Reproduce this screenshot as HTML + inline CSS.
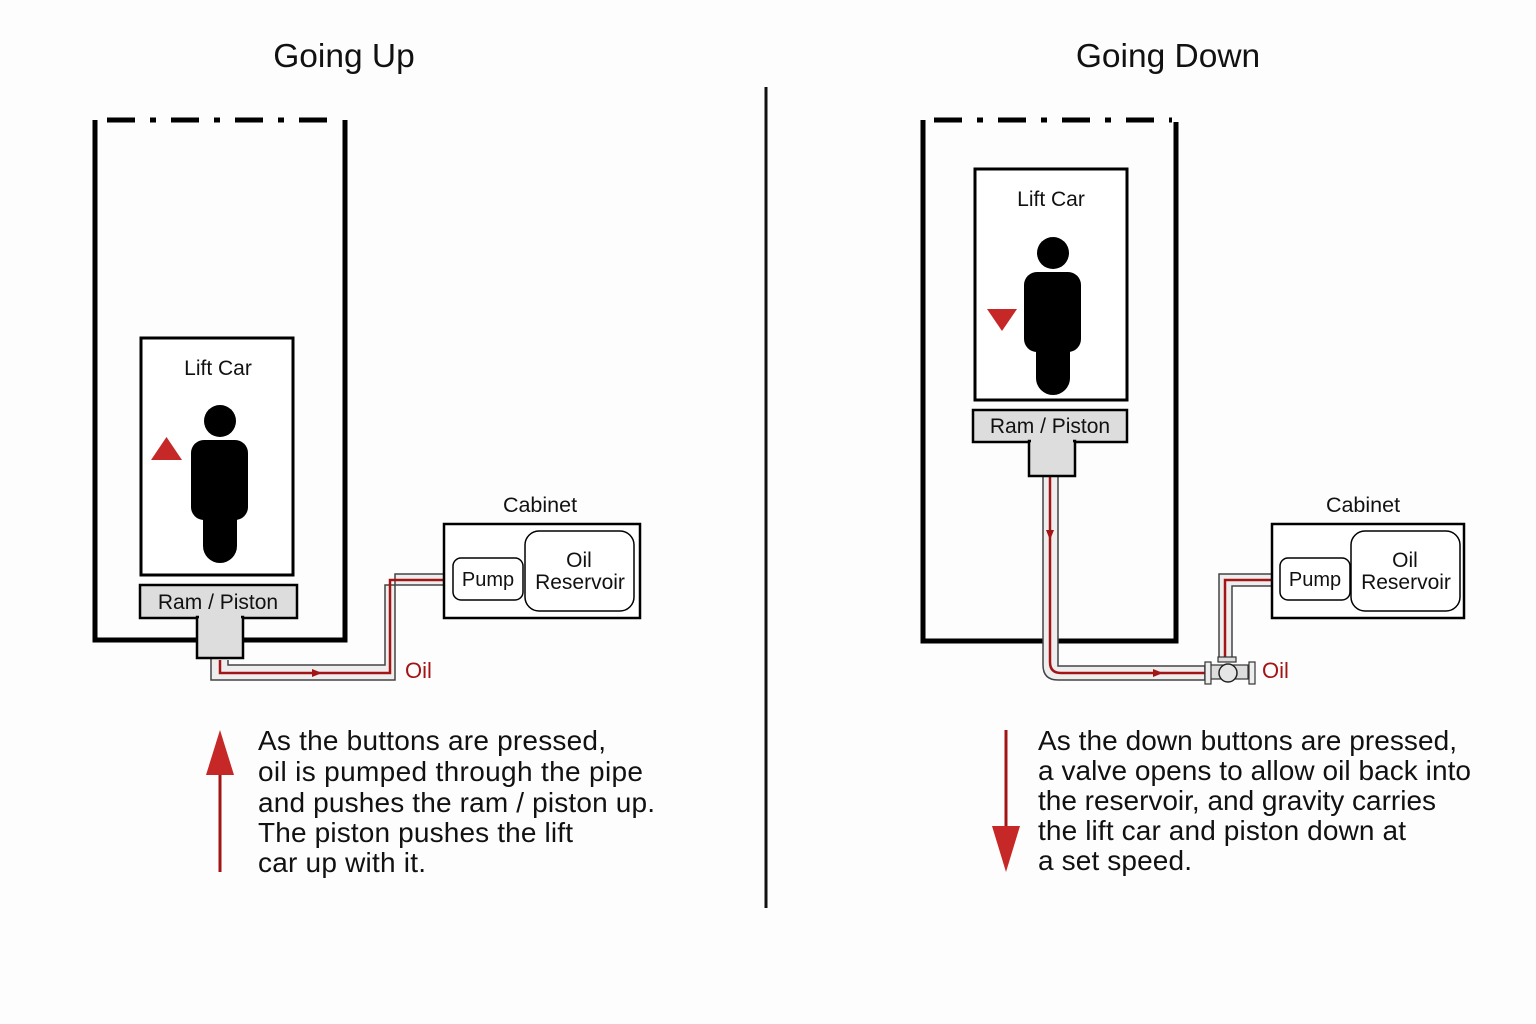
<!DOCTYPE html>
<html><head><meta charset="utf-8"><style>html,body{margin:0;padding:0;background:#fdfdfd}svg{display:block}</style></head>
<body>
<svg width="1536" height="1024" viewBox="0 0 1536 1024" xmlns="http://www.w3.org/2000/svg" font-family="Liberation Sans, Arial, sans-serif">
<defs>
<g id="person">
<circle cx="0" cy="0" r="16" fill="#000"/>
<rect x="-29" y="19" width="57" height="80" rx="13" fill="#000"/>
<rect x="-17" y="70" width="34" height="72" rx="17" fill="#000"/>
</g>
</defs>
<rect width="1536" height="1024" fill="#fdfdfd"/>
<text x="344" y="67" font-size="33.5" text-anchor="middle" fill="#111">Going Up</text>
<text x="1168" y="67" font-size="33.5" text-anchor="middle" fill="#111">Going Down</text>
<line x1="766" y1="87" x2="766" y2="908" stroke="#111" stroke-width="3"/>

<!-- LEFT -->
<path d="M95 120 V640 H345 V120" fill="none" stroke="#000" stroke-width="5"/>
<line x1="107" y1="120" x2="340" y2="120" stroke="#000" stroke-width="5" stroke-dasharray="28 15 6 15"/>
<rect x="141" y="338" width="152" height="237" fill="#fff" stroke="#000" stroke-width="3"/>
<text x="218" y="375" font-size="21" text-anchor="middle" fill="#111">Lift Car</text>
<use href="#person" x="220" y="421"/>
<polygon points="151,460 182,460 166.5,437" fill="#c62828"/>
<path d="M211 658 V680 H395 V574 H445 V585 H385 V665 H228 V658 Z" fill="#eee" stroke="none"/>
<path d="M211 658 V680 H395 V574 H445" fill="none" stroke="#444" stroke-width="1.5"/>
<path d="M228 660 V665 H385 V585 H445" fill="none" stroke="#444" stroke-width="1.5"/>
<path d="M220 660 V673 H390 V580 H452" fill="none" stroke="#a31515" stroke-width="2.5"/>
<polygon points="312,669 322,673 312,677" fill="#a31515"/>
<text x="405" y="678" font-size="22" fill="#a31515">Oil</text>
<rect x="140" y="585" width="157" height="33" fill="#ddd" stroke="#000" stroke-width="2.5"/>
<rect x="197" y="617" width="46" height="41" fill="#ddd" stroke="#000" stroke-width="2.5"/>
<rect x="199" y="612" width="42" height="8" fill="#ddd"/>
<text x="218" y="609" font-size="21" text-anchor="middle" fill="#111">Ram / Piston</text>
<text x="540" y="512" font-size="21.5" text-anchor="middle" fill="#111">Cabinet</text>
<rect x="444" y="524" width="196" height="94" fill="#fff" stroke="#000" stroke-width="2.5"/>
<rect x="453" y="558" width="70" height="42" rx="8" fill="#fff" stroke="#000" stroke-width="1.5"/>
<text x="488" y="586" font-size="20" text-anchor="middle" fill="#111">Pump</text>
<rect x="525" y="531" width="109" height="80" rx="14" fill="#fff" stroke="#000" stroke-width="1.5"/>
<text x="579" y="567" font-size="21" text-anchor="middle" fill="#111">Oil</text>
<text x="580" y="589" font-size="21" text-anchor="middle" fill="#111">Reservoir</text>
<line x1="220" y1="872" x2="220" y2="770" stroke="#a31515" stroke-width="3"/>
<polygon points="206,775 220,730 234,775" fill="#c62828"/>
<g font-size="28" fill="#111">
<text x="258" y="750" textLength="348">As the buttons are pressed,</text>
<text x="258" y="781" textLength="385">oil is pumped through the pipe</text>
<text x="258" y="812" textLength="397">and pushes the ram / piston up.</text>
<text x="258" y="842" textLength="315">The piston pushes the lift</text>
<text x="258" y="872" textLength="168">car up with it.</text>
</g>

<!-- RIGHT -->
<path d="M923 120 V641 H1176 V122" fill="none" stroke="#000" stroke-width="5"/>
<line x1="934" y1="120" x2="1172" y2="120" stroke="#000" stroke-width="5" stroke-dasharray="28 15 6 15"/>
<rect x="975" y="169" width="152" height="231" fill="#fff" stroke="#000" stroke-width="3"/>
<text x="1051" y="206" font-size="21" text-anchor="middle" fill="#111">Lift Car</text>
<use href="#person" x="1053" y="253"/>
<polygon points="987,309 1017,309 1002,331" fill="#c62828"/>
<path d="M1043 476 V665 Q1043 680 1058 680 H1205 V666 H1058 V476 Z" fill="#eee" stroke="#444" stroke-width="1.5"/>
<path d="M1050 476 V662 Q1050 673 1061 673 H1215" fill="none" stroke="#a31515" stroke-width="2.5"/>
<polygon points="1046,530 1050,540 1054,530" fill="#a31515"/>
<polygon points="1153,669 1163,673 1153,677" fill="#a31515"/>
<path d="M1219 660 V574 H1280 V586 H1232 V660 Z" fill="#eee" stroke="#444" stroke-width="1.5"/>
<path d="M1225 660 V580 H1280" fill="none" stroke="#a31515" stroke-width="2.5"/>
<rect x="1218" y="657" width="18" height="5" fill="#ddd" stroke="#333" stroke-width="1.2"/>
<rect x="1205" y="665" width="43" height="14" fill="#ddd" stroke="#333" stroke-width="1.2"/>
<rect x="1205" y="662" width="6" height="22" fill="#eee" stroke="#333" stroke-width="1.2"/>
<rect x="1249" y="662" width="6" height="22" fill="#eee" stroke="#333" stroke-width="1.2"/>
<circle cx="1228" cy="673" r="9" fill="#e5e5e5" stroke="#222" stroke-width="1.5"/>
<text x="1262" y="678" font-size="22" fill="#a31515">Oil</text>
<rect x="973" y="410" width="154" height="32" fill="#ddd" stroke="#000" stroke-width="2.5"/>
<rect x="1029" y="441" width="46" height="35" fill="#ddd" stroke="#000" stroke-width="2.5"/>
<rect x="1031" y="437" width="42" height="8" fill="#ddd"/>
<text x="1050" y="433" font-size="21" text-anchor="middle" fill="#111">Ram / Piston</text>
<text x="1363" y="512" font-size="21.5" text-anchor="middle" fill="#111">Cabinet</text>
<rect x="1272" y="524" width="192" height="94" fill="#fff" stroke="#000" stroke-width="2.5"/>
<rect x="1280" y="558" width="70" height="42" rx="8" fill="#fff" stroke="#000" stroke-width="1.5"/>
<text x="1315" y="586" font-size="20" text-anchor="middle" fill="#111">Pump</text>
<rect x="1351" y="531" width="109" height="80" rx="14" fill="#fff" stroke="#000" stroke-width="1.5"/>
<text x="1405" y="567" font-size="21" text-anchor="middle" fill="#111">Oil</text>
<text x="1406" y="589" font-size="21" text-anchor="middle" fill="#111">Reservoir</text>
<line x1="1006" y1="730" x2="1006" y2="830" stroke="#a31515" stroke-width="3"/>
<polygon points="992,826 1006,872 1020,826" fill="#c62828"/>
<g font-size="28" fill="#111">
<text x="1038" y="750" textLength="419">As the down buttons are pressed,</text>
<text x="1038" y="780" textLength="433">a valve opens to allow oil back into</text>
<text x="1038" y="810" textLength="398">the reservoir, and gravity carries</text>
<text x="1038" y="840" textLength="368">the lift car and piston down at</text>
<text x="1038" y="870" textLength="154">a set speed.</text>
</g>
</svg>
</body></html>
